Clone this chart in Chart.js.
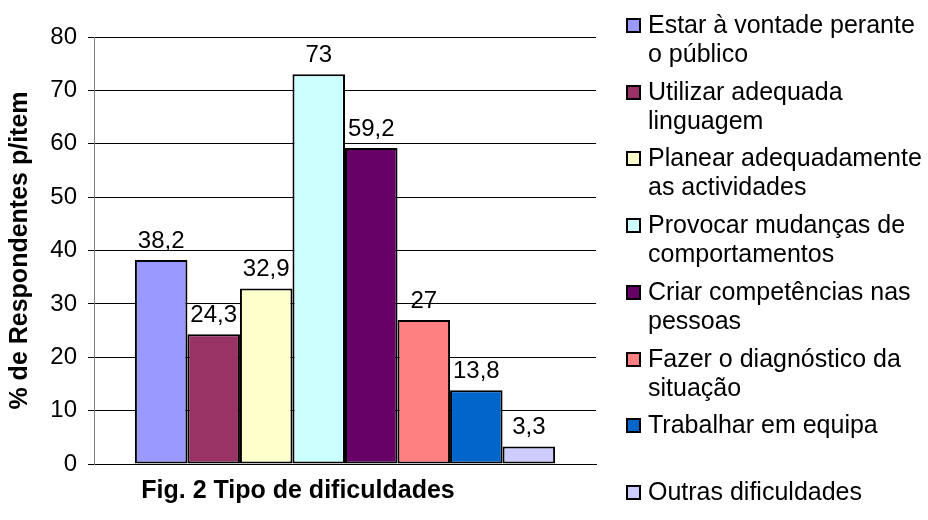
<!DOCTYPE html>
<html>
<head>
<meta charset="utf-8">
<script src="https://cdn.jsdelivr.net/npm/chart.js@4"></script>
<style>
  html, body { margin: 0; padding: 0; background: #fff; }
  #wrap { position: relative; width: 928px; height: 520px; }
  #legend { position: absolute; left: 624px; top: 0; width: 304px; height: 520px;
    font-family: "Liberation Sans", Arial, sans-serif; font-size: 25px; color: #000; }
  .item { position: absolute; left: 0; }
  .box { position: absolute; left: 2px; width: 15px; height: 15px; box-sizing: border-box;
    border: 2px solid #000; }
  .txt { position: absolute; left: 24px; line-height: 29px; white-space: pre; }
</style>
</head>
<body>
<div id="wrap">
  <canvas id="chart" width="928" height="520"></canvas>
  <div id="legend"></div>
</div>
<script>
const seriesNames = [
  "Estar à vontade perante\no público",
  "Utilizar adequada\nlinguagem",
  "Planear adequadamente\nas actividades",
  "Provocar mudanças de\ncomportamentos",
  "Criar competências nas\npessoas",
  "Fazer o diagnóstico da\nsituação",
  "Trabalhar em equipa",
  "Outras dificuldades"
];
const seriesValues = [38.2, 24.3, 32.9, 73, 59.2, 27, 13.8, 3.3];
const seriesColors = ["#9999FF", "#993366", "#FFFFCC", "#CCFFFF", "#660066", "#FF8080", "#0066CC", "#CCCCFF"];
const yTicks = [0, 10, 20, 30, 40, 50, 60, 70, 80];

const fontFamily = '"Liberation Sans", Arial, sans-serif';

// value labels above each bar, decimal comma like the original
const valueLabels = {
  id: "valueLabels",
  afterDatasetsDraw(chart) {
    const ctx = chart.ctx;
    ctx.save();
    ctx.font = "24px " + fontFamily;
    ctx.fillStyle = "#000";
    ctx.textAlign = "center";
    ctx.textBaseline = "alphabetic";
    chart.data.datasets.forEach((ds, i) => {
      const bar = chart.getDatasetMeta(i).data[0];
      const txt = String(ds.data[0]).replace(".", ",");
      ctx.fillText(txt, bar.x, bar.y - 12);
    });
    ctx.restore();
  }
};

const datasets = seriesNames.map((name, i) => ({
  label: name,
  data: [seriesValues[i]],
  backgroundColor: seriesColors[i],
  borderColor: "#000",
  borderWidth: 2,
  borderSkipped: false
}));

new Chart(document.getElementById("chart"), {
  type: "bar",
  data: { labels: [""], datasets: datasets },
  options: {
    responsive: false,
    animation: false,
    layout: { padding: { left: 0, right: 332, top: 37, bottom: 0 } },
    datasets: { bar: { barPercentage: 1, categoryPercentage: 0.837 } },
    plugins: {
      legend: { display: false },
      tooltip: { enabled: false },
      title: {
        display: true,
        position: "bottom",
        text: "Fig. 2 Tipo de dificuldades",
        color: "#000",
        font: { family: fontFamily, size: 25, weight: "bold" },
        padding: { top: 12, bottom: 14 }
      }
    },
    scales: {
      x: {
        grid: { display: false },
        ticks: { display: false },
        border: { color: "#000", width: 1 },
        afterFit(scale) { scale.height = 0; }
      },
      y: {
        min: 0,
        max: 80,
        afterBuildTicks(scale) { scale.ticks = yTicks.map(v => ({ value: v })); },
        grid: { color: "#000", lineWidth: 1, tickLength: 6 },
        border: { color: "#808080", width: 1 },
        ticks: { color: "#000", padding: 11, font: { family: fontFamily, size: 24 } },
        title: {
          display: true,
          text: "% de Respondentes p/item",
          color: "#000",
          font: { family: fontFamily, size: 25, weight: "bold" },
          padding: { top: 5, bottom: 0 }
        },
        afterFit(scale) { scale.width = 94; }
      }
    }
  },
  plugins: [valueLabels]
});

// legend on the right, built from the same arrays
const legendEl = document.getElementById("legend");
seriesNames.forEach((name, i) => {
  const item = document.createElement("div");
  item.className = "item";
  item.style.top = (10 + i * 66.7) + "px";
  const box = document.createElement("div");
  box.className = "box";
  box.style.top = "8px";
  box.style.background = seriesColors[i];
  const txt = document.createElement("div");
  txt.className = "txt";
  txt.textContent = name;
  item.appendChild(box);
  item.appendChild(txt);
  legendEl.appendChild(item);
});
</script>
</body>
</html>
